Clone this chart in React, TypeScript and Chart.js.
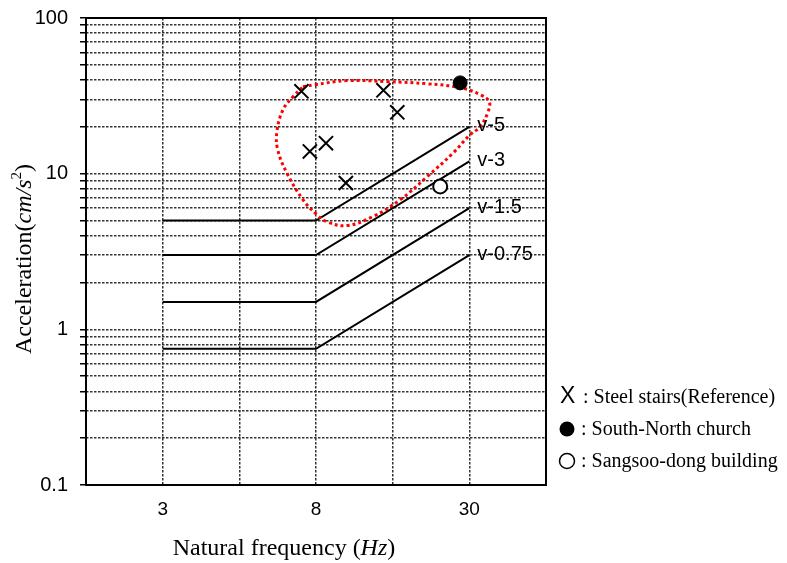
import React, { useEffect, useRef } from "react";
import { Chart, registerables } from "chart.js";
Chart.register(...registerables);

// x positions are evenly spaced category slots; labels shown at slots 1, 3, 5
const xTickLabels = ["", "3", "", "8", "", "30", ""];
const xSlots = [0, 1, 2, 3, 4, 5, 6];
const yGridValues = [
  0.1, 0.2, 0.3, 0.4, 0.5, 0.6, 0.7, 0.8, 0.9,
  1, 2, 3, 4, 5, 6, 7, 8, 9,
  10, 20, 30, 40, 50, 60, 70, 80, 90, 100,
];
const yLabelValues = [0.1, 1, 10, 100];

// guide lines (x slot, acceleration)
const guideX = [1, 3, 5];
const v5 = [5, 5, 20];
const v3 = [3, 3, 12];
const v15 = [1.5, 1.5, 6];
const v075 = [0.75, 0.75, 3];
const guideNames = ["v-5", "v-3", "v-1.5", "v-0.75"];

// measured points
const stairsX = [2.81, 2.92, 3.13, 3.39, 3.88, 4.06];
const stairsY = [33.8, 13.9, 15.7, 8.71, 34.3, 24.8];
const churchX = [4.88];
const churchY = [38.3];
const sangsooX = [4.62];
const sangsooY = [8.28];

// red dotted envelope
const envX = [2.83, 2.99, 3.4, 3.93, 4.45, 4.88, 5.14, 5.26, 5.24, 5.14, 5.01, 4.79, 4.45, 4.1, 3.74, 3.4, 3.14, 3.01, 2.83, 2.62, 2.5, 2.49, 2.57, 2.7, 2.83];
const envY = [36.2, 37.3, 39.6, 39.0, 37.8, 35.7, 32.2, 29.0, 24.7, 20.0, 17.8, 13.6, 9.57, 6.81, 5.3, 4.64, 4.92, 5.46, 6.81, 10.1, 14.3, 18.6, 25.8, 31.2, 36.2];

const zip = (xs: number[], ys: number[]) => xs.map((x, i) => ({ x, y: ys[i] }));

const SERIF = '"Liberation Serif", "Times New Roman", serif';
const SANS = '"Liberation Sans", Arial, sans-serif';

function drawSegments(ctx: CanvasRenderingContext2D, segs: { t: string; f: string; dy?: number }[], cx: number, cy: number) {
  let total = 0;
  for (const s of segs) {
    ctx.font = s.f;
    total += ctx.measureText(s.t).width;
  }
  let x = cx - total / 2;
  for (const s of segs) {
    ctx.font = s.f;
    ctx.fillText(s.t, x, cy + (s.dy || 0));
    x += ctx.measureText(s.t).width;
  }
}

const annotPlugin = {
  id: "annot",
  afterDraw(chart: any) {
    const ctx = chart.ctx as CanvasRenderingContext2D;
    const { left, top, right, bottom } = chart.chartArea;
    const xs = chart.scales.x;
    const ys = chart.scales.y;
    ctx.save();
    // frame
    ctx.strokeStyle = "#000";
    ctx.lineWidth = 2;
    ctx.setLineDash([]);
    ctx.strokeRect(left, top, right - left, bottom - top);

    ctx.fillStyle = "#000";
    ctx.textBaseline = "middle";
    ctx.textAlign = "left";
    // guide labels
    const ends = [v5, v3, v15, v075];
    ctx.font = "20px " + SANS;
    ends.forEach((arr, i) => {
      const px = xs.getPixelForValue(guideX[guideX.length - 1]) + 8;
      const py = ys.getPixelForValue(arr[arr.length - 1]) - 1;
      ctx.fillText(guideNames[i], px, py);
    });

    // x title
    drawSegments(ctx, [
      { t: "Natural frequency (", f: "24px " + SERIF },
      { t: "Hz", f: "italic 24px " + SERIF },
      { t: ")", f: "24px " + SERIF },
    ], 284, 549);

    // y title
    ctx.save();
    ctx.translate(25, 259);
    ctx.rotate(-Math.PI / 2);
    drawSegments(ctx, [
      { t: "Acceleration(", f: "24px " + SERIF },
      { t: "cm/s", f: "italic 24px " + SERIF },
      { t: "2", f: "15px " + SERIF, dy: -8 },
      { t: ")", f: "24px " + SERIF },
    ], 0, 0);
    ctx.restore();

    // legend
    ctx.textAlign = "left";
    ctx.font = "23px " + SANS;
    ctx.fillText("X", 560, 397);
    ctx.font = "20px " + SERIF;
    ctx.fillText(": Steel stairs(Reference)", 583, 398);
    ctx.beginPath();
    ctx.arc(567, 429, 7.5, 0, Math.PI * 2);
    ctx.fill();
    ctx.fillText(": South-North church", 581, 430);
    ctx.beginPath();
    ctx.lineWidth = 1.5;
    ctx.arc(567, 461, 7.5, 0, Math.PI * 2);
    ctx.stroke();
    ctx.fillText(": Sangsoo-dong building", 581, 462);
    ctx.restore();
  },
};

export default function App() {
  const ref = useRef<HTMLCanvasElement>(null);
  useEffect(() => {
    document.body.style.margin = "0";
    const lineDs = (data: number[]) => ({
      data: zip(guideX, data),
      showLine: true,
      borderColor: "#000",
      borderWidth: 2,
      pointRadius: 0,
      tension: 0,
    });
    const chart = new Chart(ref.current!, {
      type: "scatter",
      data: {
        datasets: [
          {
            data: zip(stairsX, stairsY),
            pointStyle: "crossRot",
            pointRadius: 10,
            borderColor: "#000",
            borderWidth: 2,
            backgroundColor: "#000",
          },
          {
            data: zip(churchX, churchY),
            pointStyle: "circle",
            pointRadius: 7,
            borderColor: "#000",
            backgroundColor: "#000",
            borderWidth: 1,
          },
          {
            data: zip(sangsooX, sangsooY),
            pointStyle: "circle",
            pointRadius: 7,
            borderColor: "#000",
            backgroundColor: "#fff",
            borderWidth: 2,
          },
          {
            data: zip(envX, envY),
            showLine: true,
            borderColor: "#ff0000",
            borderWidth: 3,
            borderDash: [3, 3],
            pointRadius: 0,
            tension: 0.4,
          } as any,
          lineDs(v5),
          lineDs(v3),
          lineDs(v15),
          lineDs(v075),
        ],
      },
      options: {
        animation: false,
        responsive: false,
        devicePixelRatio: 1,
        layout: { autoPadding: false, padding: { top: 18, right: 241, left: 0, bottom: 0 } } as any,
        plugins: { legend: { display: false }, tooltip: { enabled: false } },
        scales: {
          x: {
            type: "linear",
            min: 0,
            max: 6,
            afterBuildTicks: (s: any) => {
              s.ticks = xSlots.map((v) => ({ value: v }));
            },
            afterFit: (s: any) => {
              s.height = 78;
              s.paddingLeft = 0;
              s.paddingRight = 0;
            },
            ticks: {
              autoSkip: false,
              padding: 13,
              color: "#000",
              font: { family: SANS, size: 19 },
              callback: (v: any) => xTickLabels[v] ?? "",
            },
            grid: { color: "#333", lineWidth: 1.5, drawTicks: false, tickLength: 0 },
            border: { display: false, dash: [2.5, 1.5] },
          },
          y: {
            type: "logarithmic",
            min: 0.1,
            max: 100,
            afterBuildTicks: (s: any) => {
              s.ticks = yGridValues.map((v) => ({ value: v }));
            },
            afterFit: (s: any) => {
              s.width = 86;
              s.paddingTop = 0;
              s.paddingBottom = 0;
            },
            ticks: {
              autoSkip: false,
              padding: 12,
              color: "#000",
              font: { family: SANS, size: 20 },
              callback: (v: any) => (yLabelValues.includes(v) ? String(v) : ""),
            },
            grid: { color: "#333", lineWidth: 1.5, drawTicks: true, tickLength: 6, tickColor: "#000", tickWidth: 1.5, tickBorderDash: [] } as any,
            border: { display: false, dash: [2.5, 1.5] },
          },
        },
      },
      plugins: [annotPlugin],
    });
    return () => chart.destroy();
  }, []);
  return <canvas ref={ref} width={787} height={563} style={{ display: "block", width: 787, height: 563 }} />;
}
